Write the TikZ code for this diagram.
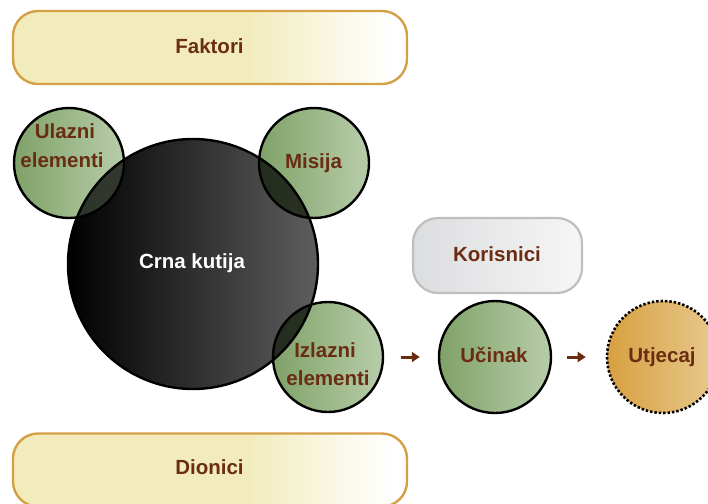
\documentclass[tikz,border=0pt]{standalone}
\usepackage{fontspec}
\setmainfont{Liberation Sans}
\usetikzlibrary{arrows.meta}
\definecolor{txtbrown}{HTML}{6A2C12}
\definecolor{yelfill}{HTML}{F2ECBD}
\definecolor{yelborder}{HTML}{D59F45}
\definecolor{grayfillL}{HTML}{DCDDDF}
\definecolor{grayfillR}{HTML}{F6F6F6}
\definecolor{grayborder}{HTML}{BFBFBF}
\definecolor{greenL}{HTML}{7FA268}
\definecolor{greenR}{HTML}{B8CDAA}
\definecolor{darkR}{HTML}{5E5E5E}
\definecolor{orangeL}{HTML}{D7A040}
\definecolor{orangeR}{HTML}{E8CA90}
\pgfdeclarehorizontalshading{yelshade}{100bp}{color(0bp)=(yelfill); color(25bp)=(yelfill); color(55bp)=(yelfill); color(73bp)=(white); color(100bp)=(white)}
\tikzset{
  lbl/.style={font=\fontsize{20.5}{24}\selectfont\bfseries, text=txtbrown, anchor=base, inner sep=0pt},
  wlbl/.style={lbl, text=white},
  yelbox/.style={rectangle, rounded corners=25pt, draw=yelborder, line width=2.4pt, shading=yelshade, minimum width=394pt, minimum height=73pt, inner sep=0pt},
  graybox/.style={rectangle, rounded corners=25pt, draw=grayborder, line width=2.2pt, left color=grayfillL, right color=grayfillR, minimum width=169pt, minimum height=75pt, inner sep=0pt},
  outline/.style={circle, draw=black, line width=2.4pt, inner sep=0pt},
  gshade/.style={left color=greenL, right color=greenR},
  arr/.style={-{Triangle[length=8pt,width=10pt]}, line width=3pt, draw=txtbrown}
}
\begin{document}
\begin{tikzpicture}[x=1pt,y=-1pt]
\useasboundingbox (0,0) rectangle (708,503);
% centres
\coordinate (cB) at (193,264);
\coordinate (cU) at (69,163);
\coordinate (cM) at (314,163);
\coordinate (cI) at (328,357);
% top and bottom boxes
\node[yelbox] (faktori) at (210,47.5) {};
\node[lbl] (faktoriT) at (209.5,53) {Faktori};
\node[yelbox] (dionici) at (210,470) {};
\node[lbl] (dioniciT) at (209.5,474) {Dionici};
% fills
\shade[left color=black, right color=darkR] (cB) circle (125);
\shade[gshade] (cU) circle (55);
\shade[gshade] (cM) circle (55);
\shade[gshade] (cI) circle (55);
% overlaps
\begin{scope}
  \clip (cU) circle (55);
  \fill[black, opacity=0.72] (cB) circle (125);
\end{scope}
\begin{scope}
  \clip (cM) circle (55);
  \fill[black, opacity=0.72] (cB) circle (125);
\end{scope}
\begin{scope}
  \clip (cI) circle (55);
  \fill[black, opacity=0.72] (cB) circle (125);
\end{scope}
% outlines
\node[outline, minimum size=250pt] (crna) at (cB) {};
\node[outline, minimum size=110pt] (ulazni) at (cU) {};
\node[outline, minimum size=110pt] (misija) at (cM) {};
\node[outline, minimum size=110pt] (izlazni) at (cI) {};
% texts
\node[wlbl] (crnaT) at (192,268) {Crna kutija};
\node[lbl] (ulazniT1) at (65,138) {Ulazni};
\node[lbl] (ulazniT2) at (62,167) {elementi};
\node[lbl] (misijaT) at (313.5,168) {Misija};
\node[lbl] (izlazniT1) at (325,357) {Izlazni};
\node[lbl] (izlazniT2) at (328,385) {elementi};
% right part
\node[graybox] (korisnici) at (497.5,255.5) {};
\node[lbl] (korisniciT) at (497,261) {Korisnici};
\node[outline, minimum size=112pt, gshade] (ucinak) at (495,357) {};
\node[lbl] (ucinakT) at (494,362) {Učinak};
\node[circle, inner sep=0pt, minimum size=112pt, left color=orangeL, right color=orangeR, draw=black, line width=2.6pt, dash pattern=on 2.4pt off 2pt] (utjecaj) at (663,357) {};
\node[lbl] (utjecajT) at (662,362) {Utjecaj};
% arrows
\draw[arr, shorten <=17pt, shorten >=18pt] (izlazni.east) -- (ucinak.west);
\draw[arr, shorten <=15pt, shorten >=20pt] (ucinak.east) -- (utjecaj.west);
\end{tikzpicture}
\end{document}
